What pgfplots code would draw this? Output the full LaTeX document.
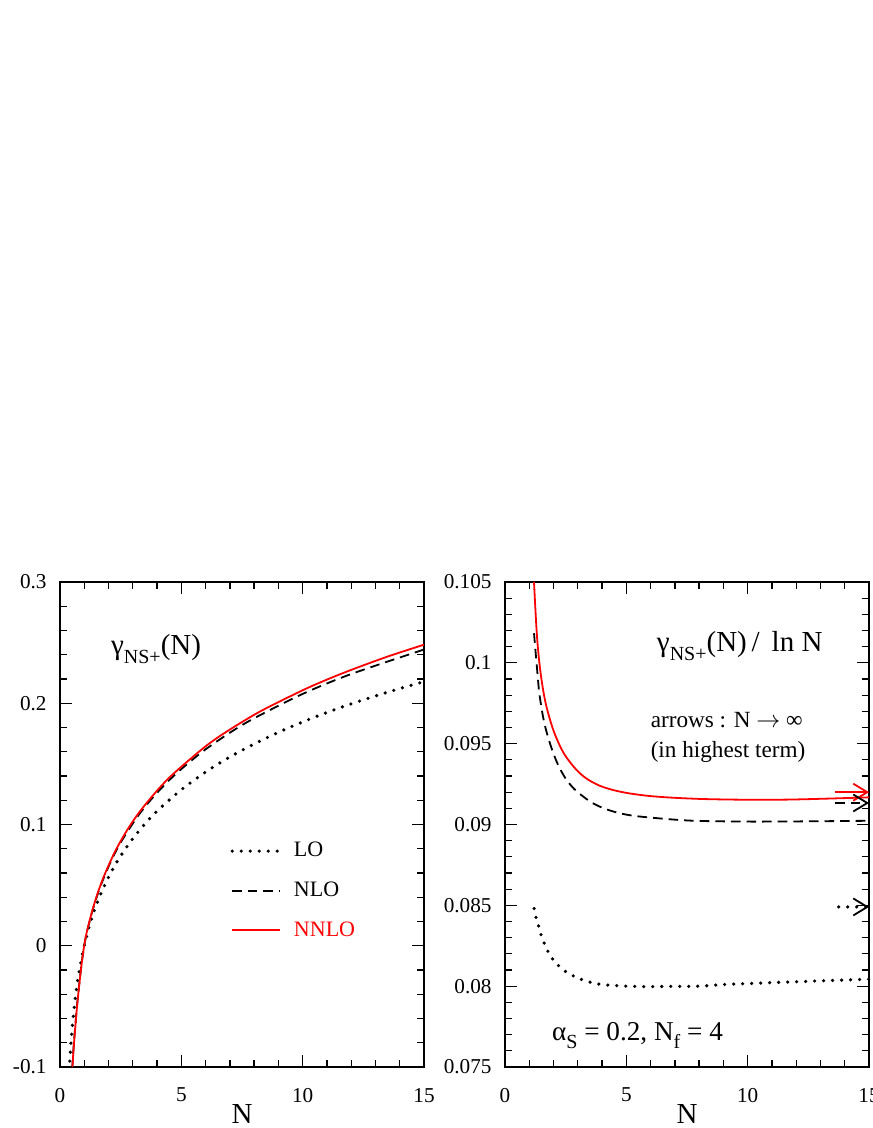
\documentclass[border=0pt]{standalone}
\usepackage{fontspec}
\setmainfont{Liberation Serif}
\usepackage{pgfplots}
\pgfplotsset{compat=1.18}
\usetikzlibrary{arrows.meta}

\newcommand\fs[1]{\fontsize{#1}{#1}\selectfont}
\newcommand\sub[3]{\raisebox{-#1}{\fs{#2}#3}}

\pgfplotsset{
  panel/.style={
    scale only axis, width=182pt, height=242.5pt,
    anchor=south west,
    xmin=0, xmax=15,
    xtick={0,5,10,15}, xticklabels={0,5,10,15},
    minor x tick num=4, minor y tick num=4,
    tick align=inside, major tick length=6pt, minor tick length=3.5pt,
    axis line style={line width=0.65pt},
    every tick/.style={line width=0.65pt, black},
    tick label style={font=\fs{10.6}},
    /pgf/number format/assume math mode=true,
    scaled ticks=false,
    xticklabel style={yshift=-7pt},
    yticklabel style={xshift=-3.2pt},
    xlabel={N},
    x label style={font=\fs{14.5}, at={(axis description cs:0.5,-0.1155)}, anchor=base},
  },
  lo/.style={black, line width=1.8pt, line cap=round, dash pattern=on 0pt off 4.5pt},
  nlo/.style={black, line width=0.9pt, dash pattern=on 4.8pt off 3pt},
  nnlo/.style={red, line width=0.9pt},
  tip/.style={-{Straight Barb[length=7pt,width=8.5pt,line width=0.9pt]}},
}

\begin{document}
\begin{tikzpicture}
\useasboundingbox (0,0) rectangle (436pt,564pt);

% left panel: gamma_NS+(N)
\begin{axis}[panel, at={(30pt,30.5pt)},
    ymin=-0.1, ymax=0.3,
    ytick={-0.1,0,0.1,0.2,0.3}, yticklabels={-0.1,0,0.1,0.2,0.3},
    legend style={draw=none, fill=none, at={(0.467,0.464)}, anchor=north west,
      font=\fs{11}, row sep=11pt, column sep=6pt, inner sep=0pt,
      nodes={inner sep=0pt}},
    legend cell align=left,
    legend image code/.code={\draw[#1] (0pt,0pt) -- (24pt,0pt);},
]
\addplot[lo, smooth] coordinates {
 (0.38,-0.1026)(0.4,-0.0957)(0.45,-0.0807)(0.5,-0.0682)(0.6,-0.0482)
 (0.7,-0.0326)(0.8,-0.0200)(0.9,-0.0094)(1,0)(1.1,0.0081)(1.2,0.0155)
 (1.35,0.0252)(1.5,0.0337)(1.75,0.0460)(2,0.0566)(2.25,0.0659)(2.5,0.0741)
 (3,0.0884)(3.5,0.1005)(4,0.1111)(5,0.1287)(6,0.1433)(7,0.1557)(8,0.1664)
 (9,0.1760)(10,0.1846)(11,0.1924)(12,0.1995)(13,0.2060)(14,0.2121)(15,0.2178)};
\addlegendentry{LO}
\addplot[nlo, smooth] coordinates {
 (0.5,-0.102)(0.55,-0.0865)(0.6,-0.0733)(0.7,-0.0497)(0.8,-0.0305)
 (0.9,-0.0133)(1.0,0.0003)(1.1,0.0106)(1.195,0.0181)(1.305,0.0266)
 (1.415,0.0340)(1.69,0.0503)(2.10,0.0697)(2.54,0.0865)(3.23,0.1075)
 (3.91,0.1242)(4.74,0.1411)(5.84,0.1596)(7,0.1757)(8,0.1876)(10,0.2077)
 (12,0.2241)(15,0.2443)};
\addlegendentry{NLO}
\addplot[nnlo, smooth] coordinates {
 (0.5,-0.104)(0.55,-0.088)(0.6,-0.0745)(0.7,-0.0505)(0.8,-0.031)
 (0.9,-0.0135)(1.0,0.0005)(1.1,0.011)(1.195,0.0187)(1.264,0.0241)
 (1.346,0.0300)(1.51,0.0408)(1.785,0.0561)(2.266,0.0776)(2.815,0.0969)
 (3.43,0.1143)(4.46,0.1378)(5.97,0.1640)(7,0.1783)(8.3,0.1938)(10,0.2107)
 (11,0.2195)(12,0.2275)(13.5,0.2385)(15,0.2483)};
\addlegendentry{\textcolor{red}{NNLO}}
\node[anchor=base west, font=\fs{14.5}] at (rel axis cs:0.121,0.8495)
  {γ\sub{4.5pt}{10}{NS+}(N)};
\end{axis}

% right panel: gamma_NS+(N) / ln N
\begin{axis}[panel, at={(252.5pt,30.5pt)}, clip=false,
    ymin=0.075, ymax=0.105,
    ytick={0.075,0.08,0.085,0.09,0.095,0.1,0.105},
    yticklabels={0.075,0.08,0.085,0.09,0.095,0.1,0.105},
]
\addplot[lo, smooth] coordinates {
 (1.2,0.0848)(1.25,0.0844)(1.35,0.0839)(1.5,0.0831)(1.75,0.0822)(2,0.0816)
 (2.25,0.0812)(2.5,0.0809)(3,0.0805)(3.5,0.08025)(4,0.0801)(5,0.0800)
 (6,0.07997)(7,0.07999)(8,0.0800)(9,0.0801)(10,0.08016)(11,0.08022)
 (12,0.08027)(13,0.08033)(14,0.08038)(15,0.08043)};
\addplot[nlo, smooth] coordinates {
 (1.195,0.10183)(1.25,0.10085)(1.305,0.09990)(1.36,0.09895)(1.415,0.09810)
 (1.55,0.09680)(1.69,0.09585)(1.9,0.09480)(2.1,0.09399)(2.3,0.09335)
 (2.54,0.09275)(2.85,0.09220)(3.23,0.09172)(3.55,0.09138)(3.91,0.09110)
 (4.3,0.09088)(4.74,0.09069)(5.25,0.09055)(5.84,0.09045)(7,0.09030)
 (8,0.09022)(10,0.09018)(12,0.09019)(15,0.09023)};
\addplot[nnlo, smooth] coordinates {
 (1.195,0.1050)(1.23,0.10395)(1.264,0.10300)(1.30,0.10205)(1.346,0.10110)
 (1.42,0.09995)(1.51,0.09890)(1.64,0.09775)(1.785,0.09685)(2.0,0.09580)
 (2.266,0.09485)(2.5,0.09422)(2.815,0.09360)(3.1,0.09315)(3.43,0.09277)
 (3.9,0.09240)(4.46,0.09213)(5.1,0.09193)(5.97,0.09176)(7,0.09165)
 (8.3,0.09157)(10,0.09153)(11,0.09153)(12,0.09155)(13.5,0.09161)(15,0.09168)};
% N -> infinity limits (arrows)
\addplot[nnlo, tip] coordinates {(13.6,0.0920)(15,0.0920)};
\addplot[nlo, tip] coordinates {(13.6,0.09133)(15,0.09133)};
\addplot[lo, tip] coordinates {(13.75,0.0849)(15,0.0849)};
\node[anchor=base west, font=\fs{14.5}] at (rel axis cs:0.398,0.8577)
  {γ\sub{4.5pt}{10}{NS+}(N)\,/\hspace{6pt}ln N};
\node[anchor=base west, font=\fs{11.6}] at (rel axis cs:0.381,0.699)
  {arrows : N $\rightarrow$ ∞};
\node[anchor=base west, font=\fs{11.6}] at (rel axis cs:0.381,0.638)
  {(in highest term)};
\node[anchor=base west, font=\fs{13.6}] at (rel axis cs:0.110,0.0542)
  {α\sub{4pt}{10}{S} = 0.2, N\sub{4pt}{10}{f} = 4};
\end{axis}
\end{tikzpicture}
\end{document}
